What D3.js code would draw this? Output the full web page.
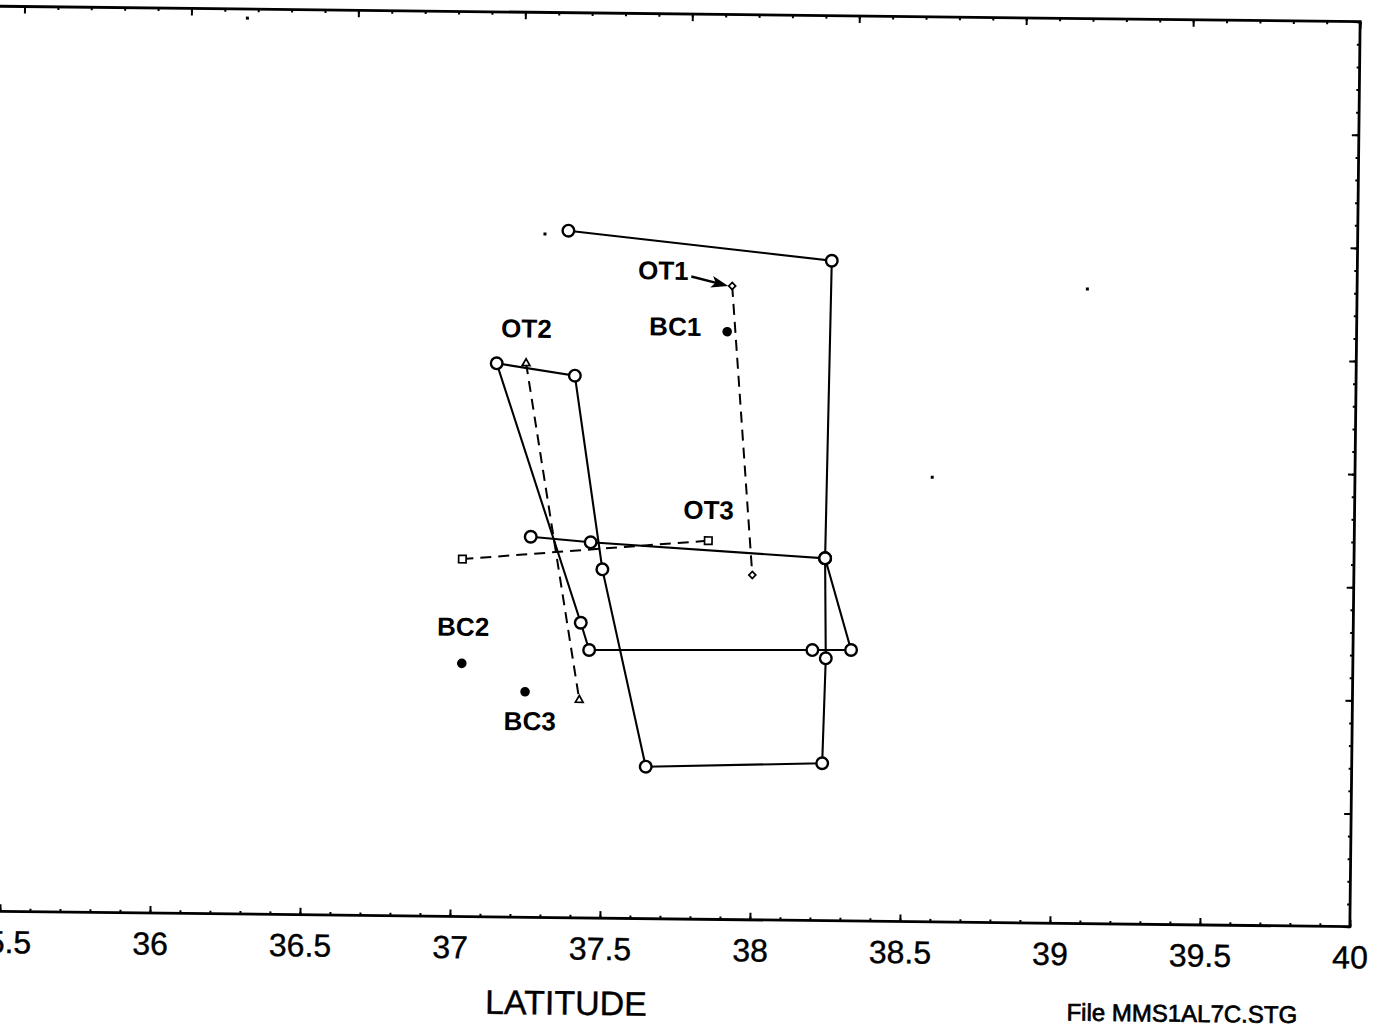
<!DOCTYPE html>
<html>
<head>
<meta charset="utf-8">
<script src="https://cdn.jsdelivr.net/npm/d3@7"></script>
<style>
  body { margin: 0; background: #fff; }
  text { font-family: "Liberation Sans", Arial, sans-serif; fill: #000; }
</style>
</head>
<body>
<div id="chart"></div>
<script>
// latitude ticks on the bottom axis
const latTicks = [35.5, 36, 36.5, 37, 37.5, 38, 38.5, 39, 39.5, 40];

// station tracks (latitude, vertical coord in frame units 0..8)
const trackA = [[37.369, 6.073], [38.248, 5.834], [38.237, 3.203], [37.455, 3.321], [37.255, 3.364]];
const trackB = [[38.237, 3.203], [38.327, 2.395], [38.198, 2.391], [37.454, 2.369], [37.425, 2.609],
                [37.135, 4.894], [37.396, 4.792], [37.495, 3.083], [37.647, 1.343], [38.235, 1.391],
                [38.243, 2.319], [38.237, 3.203]];

// transects
const ot1 = [[37.917, 5.601], [37.995, 3.048]];
const ot2 = [[37.233, 4.897], [37.423, 1.926]];
const ot3 = [[37.028, 3.160], [37.847, 3.347]];

// box cores
const bcNames = ["BC1", "BC2", "BC3"];
const bcLat = [37.902, 37.030, 37.242];
const bcPos = [5.196, 2.238, 1.993];

// stray specks on the sheet
const specks = [[37.291, 6.041], [39.101, 5.610], [38.591, 3.930], [36.291, 7.92]];

const W = 1375, H = 1030;
const frameL = -20, frameR = 1355, frameT = 14, frameB = 919;

const x = d3.scaleLinear().domain([35.5, 40]).range([5, 1355]);
const xTop = d3.scaleLinear().domain([0, 8]).range([19.3, 1355]);
const y = d3.scaleLinear().domain([0, 8]).range([frameB, frameT]);

const svg = d3.select("#chart").append("svg")
    .attr("width", W)
    .attr("height", H);

// the scanned sheet is a little tilted
const g = svg.append("g").attr("transform", "rotate(0.65, 680, 470)");

// frame
g.append("path")
    .attr("d", `M${frameL},${frameT}H${frameR}V${frameB}H${frameL}`)
    .attr("fill", "none")
    .attr("stroke", "#000")
    .attr("stroke-width", 2.8);

// bottom axis, ticks inward
const bAxis = g.append("g").attr("transform", `translate(0,${frameB})`)
    .call(d3.axisBottom(x).tickValues(latTicks).tickSize(-7).tickPadding(19).tickFormat(d => String(d)));
bAxis.select(".domain").remove();
bAxis.selectAll("text")
    .attr("font-size", 32).attr("dy", "0.71em")
    .attr("font-family", "Liberation Sans, Arial, sans-serif")
    .attr("stroke", "#000").attr("stroke-width", 0.4);

g.append("g").attr("transform", `translate(0,${frameB})`)
    .call(d3.axisBottom(x).tickValues(d3.range(35.5, 40.001, 0.1)).tickSize(-3).tickFormat(""))
    .select(".domain").remove();

// top axis
g.append("g").attr("transform", `translate(0,${frameT})`)
    .call(d3.axisTop(xTop).tickValues(d3.range(-1, 8.001, 1)).tickSize(-7).tickFormat(""))
    .select(".domain").remove();
g.append("g").attr("transform", `translate(0,${frameT})`)
    .call(d3.axisTop(xTop).tickValues(d3.range(-1, 8.001, 0.2)).tickSize(-3).tickFormat(""))
    .select(".domain").remove();

// right axis
g.append("g").attr("transform", `translate(${frameR},0)`)
    .call(d3.axisRight(y).tickValues(d3.range(0, 8.001, 1)).tickSize(-7).tickFormat(""))
    .select(".domain").remove();
g.append("g").attr("transform", `translate(${frameR},0)`)
    .call(d3.axisRight(y).tickValues(d3.range(0, 8.001, 0.2)).tickSize(-3).tickFormat(""))
    .select(".domain").remove();

g.selectAll(".tick line").attr("stroke-width", 2);

const line = d3.line().x(d => x(d[0])).y(d => y(d[1]));

// transects, dashed
[ot1, ot2, ot3].forEach(t => {
  g.append("path").attr("d", line(t))
      .attr("fill", "none").attr("stroke", "#000")
      .attr("stroke-width", 2).attr("stroke-dasharray", "11,7");
});

// tracks, solid
[trackA, trackB].forEach(t => {
  g.append("path").attr("d", line(t))
      .attr("fill", "none").attr("stroke", "#000").attr("stroke-width", 2.1);
});

// stations
g.selectAll(".stn")
    .data(trackA.concat(trackB))
    .enter().append("circle")
    .attr("class", "stn")
    .attr("cx", d => x(d[0]))
    .attr("cy", d => y(d[1]))
    .attr("r", 5.8)
    .attr("fill", "#fff")
    .attr("stroke", "#000")
    .attr("stroke-width", 2.4);

// transect end markers
function ends(pts, type, size, rot) {
  g.selectAll(null)
      .data(pts)
      .enter().append("path")
      .attr("d", d3.symbol().type(type).size(size))
      .attr("transform", d => `translate(${x(d[0])},${y(d[1])}) rotate(${rot})`)
      .attr("fill", "#fff")
      .attr("stroke", "#000")
      .attr("stroke-width", 1.7);
}
ends(ot1, d3.symbolSquare, 24, 45);
ends(ot2, d3.symbolTriangle, 26, 0);
ends(ot3, d3.symbolSquare, 56, 0);

// box cores
g.selectAll(".bc")
    .data(bcNames)
    .enter().append("circle")
    .attr("class", "bc")
    .attr("cx", (d, i) => x(bcLat[i]))
    .attr("cy", (d, i) => y(bcPos[i]))
    .attr("r", 4.8)
    .attr("fill", "#000");

// specks
g.selectAll(".speck")
    .data(specks)
    .enter().append("rect")
    .attr("x", d => x(d[0]) - 1.5)
    .attr("y", d => y(d[1]) - 1.5)
    .attr("width", 3)
    .attr("height", 3)
    .attr("fill", "#000");

// labels
function label(txt, px, py) {
  g.append("text")
      .attr("x", px).attr("y", py)
      .attr("dy", "0.36em")
      .attr("text-anchor", "middle")
      .attr("font-size", 26)
      .attr("font-weight", "bold")
      .text(txt);
}
label("OT1", x(ot1[0][0]) - 69, y(ot1[0][1]) - 15);
label("OT2", x(ot2[0][0]), y(ot2[0][1]) - 35);
label("OT3", x(ot3[1][0]), y(ot3[1][1]) - 31);
label("BC1", x(bcLat[0]) - 52, y(bcPos[0]) - 5);
label("BC2", x(bcLat[1]) + 1, y(bcPos[1]) - 37);
label("BC3", x(bcLat[2]) + 5, y(bcPos[2]) + 29);

// arrow from OT1 label to its first marker
const ax1 = x(ot1[0][0]) - 41, ay1 = y(ot1[0][1]) - 9;
const ax2 = x(ot1[0][0]) - 4, ay2 = y(ot1[0][1]);
g.append("line")
    .attr("x1", ax1).attr("y1", ay1).attr("x2", ax2 - 10).attr("y2", ay2 - 2.4)
    .attr("stroke", "#000").attr("stroke-width", 2.4);
const ang = Math.atan2(ay2 - ay1, ax2 - ax1) * 180 / Math.PI;
g.append("path")
    .attr("d", "M0,0L-17,-6L-13,0L-17,6Z")
    .attr("transform", `translate(${ax2},${ay2}) rotate(${ang})`)
    .attr("fill", "#000");

// axis title and file tag
g.append("text")
    .attr("x", 572).attr("y", 1016)
    .attr("text-anchor", "middle")
    .attr("font-size", 34)
    .attr("stroke", "#000").attr("stroke-width", 0.4)
    .text("LATITUDE");

g.append("text")
    .attr("x", 1188).attr("y", 1016)
    .attr("text-anchor", "middle")
    .attr("font-size", 24)
    .attr("stroke", "#000").attr("stroke-width", 0.7)
    .text("File MMS1AL7C.STG");
</script>
</body>
</html>
